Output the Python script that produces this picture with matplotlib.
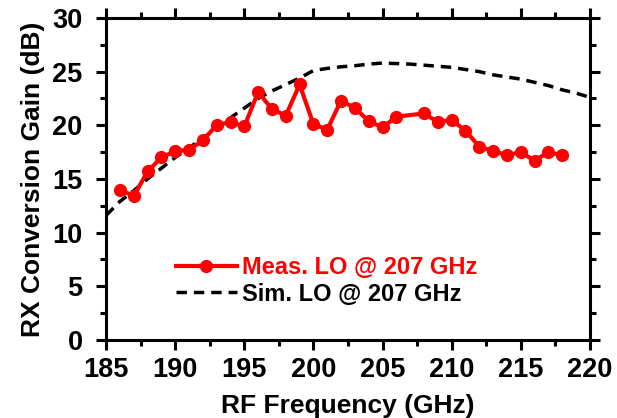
import matplotlib.pyplot as plt
from matplotlib.ticker import MultipleLocator

plt.rcParams['font.family'] = ['Liberation Sans', 'DejaVu Sans']
plt.rcParams['font.weight'] = 'bold'

# measured gain, LO @ 207 GHz
meas_freq = [186, 187, 188, 189, 190, 191, 192, 193, 194, 195, 196, 197, 198, 199, 200,
             201, 202, 203, 204, 205, 206, 208, 209, 210, 211, 212, 213, 214, 215, 216, 217, 218]
meas_gain = [14.0, 13.4, 15.7, 17.0, 17.6, 17.7, 18.6, 20.0, 20.3, 19.9, 23.1, 21.5, 20.9, 23.8, 20.1,
             19.6, 22.3, 21.6, 20.4, 19.8, 20.8, 21.1, 20.3, 20.5, 19.5, 18.0, 17.6, 17.2, 17.5, 16.7, 17.5, 17.2]

# simulated gain
sim_freq = list(range(185, 221))
sim_gain = [11.6, 12.9, 13.9, 15.0, 16.0, 17.0, 17.9, 18.8, 19.7, 20.7, 21.6, 22.5,
            23.2, 23.8, 24.4, 25.1, 25.3, 25.45, 25.55, 25.7, 25.8, 25.75, 25.7, 25.6,
            25.5, 25.4, 25.2, 25.0, 24.7, 24.5, 24.3, 24.0, 23.7, 23.3, 23.0, 22.6]

fig = plt.figure(figsize=(6.17, 4.18), dpi=100)
ax = fig.add_axes([0.172, 0.187, 0.784, 0.770])

ax.plot(meas_freq, meas_gain, color='red', lw=3, marker='o', ms=8.5,
        label='Meas. LO @ 207 GHz', zorder=3)
ax.plot(sim_freq, sim_gain, color='black', lw=2.5, ls=(0, (3, 2)),
        label='Sim. LO @ 207 GHz', zorder=2)

ax.set_xlim(185, 220)
ax.set_ylim(0, 30)
ax.xaxis.set_major_locator(MultipleLocator(5))
ax.xaxis.set_minor_locator(MultipleLocator(2.5))
ax.yaxis.set_major_locator(MultipleLocator(5))
ax.yaxis.set_minor_locator(MultipleLocator(2.5))
ax.tick_params(which='both', direction='out', width=2.2, top=True, right=True,
               labelsize=19.5)
ax.tick_params(axis='x', pad=5)
ax.tick_params(axis='y', pad=10)
ax.tick_params(which='major', length=7)
ax.tick_params(which='minor', length=4)
for s in ax.spines.values():
    s.set_linewidth(2.2)

ax.set_xlabel('RF Frequency (GHz)', fontsize=19, fontweight='bold', labelpad=8)
ax.set_ylabel('RX Conversion Gain (dB)', fontsize=19, fontweight='bold', labelpad=5)

leg = ax.legend(loc='lower left', bbox_to_anchor=(0.1, 0.04), frameon=False,
                fontsize=17, handlelength=2.6, handletextpad=0.2, labelspacing=0.15)
leg.get_texts()[0].set_color('red')

fig.savefig('out.png', dpi=100)
